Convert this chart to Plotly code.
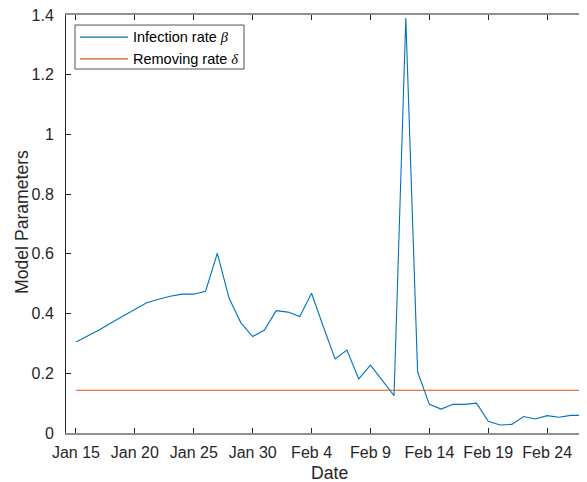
import plotly.graph_objects as go

# ---- data ----
dates = [
    "2020-01-15", "2020-01-16", "2020-01-17", "2020-01-18", "2020-01-19", "2020-01-20",
    "2020-01-21", "2020-01-22", "2020-01-23", "2020-01-24", "2020-01-25", "2020-01-26",
    "2020-01-27", "2020-01-28", "2020-01-29", "2020-01-30", "2020-01-31", "2020-02-01",
    "2020-02-02", "2020-02-03", "2020-02-04", "2020-02-05", "2020-02-06", "2020-02-07",
    "2020-02-08", "2020-02-09", "2020-02-10", "2020-02-11", "2020-02-12", "2020-02-13",
    "2020-02-14", "2020-02-15", "2020-02-16", "2020-02-17", "2020-02-18", "2020-02-19",
    "2020-02-20", "2020-02-21", "2020-02-22", "2020-02-23", "2020-02-24", "2020-02-25",
    "2020-02-26", "2020-02-27",
]
beta = [
    0.305, 0.325, 0.346, 0.369, 0.391, 0.413,
    0.436, 0.448, 0.458, 0.465, 0.465, 0.475,
    0.602, 0.451, 0.369, 0.323, 0.345, 0.410,
    0.405, 0.390, 0.468, 0.356, 0.248, 0.278,
    0.181, 0.227, 0.176, 0.125, 1.390, 0.205,
    0.096, 0.080, 0.096, 0.096, 0.100, 0.039,
    0.027, 0.029, 0.055, 0.047, 0.058, 0.053,
    0.059, 0.059,
]
delta_dates = ["2020-01-15", "2020-02-27"]
delta = [0.143, 0.143]

series_names = ["Infection rate", "Removing rate"]
series_symbols = ["β", "δ"]
series_colors = ["#0072BD", "#D95319"]

tick_dates = ["2020-01-15", "2020-01-20", "2020-01-25", "2020-01-30", "2020-02-04",
              "2020-02-09", "2020-02-14", "2020-02-19", "2020-02-24"]
tick_labels = ["Jan 15", "Jan 20", "Jan 25", "Jan 30", "Feb 4",
               "Feb 9", "Feb 14", "Feb 19", "Feb 24"]
y_ticks = [0, 0.2, 0.4, 0.6, 0.8, 1.0, 1.2, 1.4]
y_tick_labels = ["0", "0.2", "0.4", "0.6", "0.8", "1", "1.2", "1.4"]
x_title = "Date"
y_title = "Model Parameters"

FONT = "Liberation Sans, Arial, Helvetica, sans-serif"
AX = "#262626"


def legend_label(name, sym):
    return f"{name} <i><span style=\"font-family:'Liberation Serif'\">{sym}</span></i>"


fig = go.Figure()
fig.add_trace(go.Scatter(
    x=dates, y=beta, mode="lines",
    line=dict(color=series_colors[0], width=1.1),
    name=legend_label(series_names[0], series_symbols[0]),
))
fig.add_trace(go.Scatter(
    x=delta_dates, y=delta, mode="lines",
    line=dict(color=series_colors[1], width=1.1),
    name=legend_label(series_names[1], series_symbols[1]),
))

# ---- compact MATLAB-style legend box (paper coordinates) ----
fig.add_shape(type="rect", xref="paper", yref="paper",
              x0=0.0173, x1=0.3417, y0=0.8708, y1=0.976,
              line=dict(color=AX, width=0.8), fillcolor="white", layer="above")
legend_y = [0.947, 0.895]
for i in range(2):
    fig.add_shape(type="line", xref="paper", yref="paper",
                  x0=0.0269, x1=0.119, y0=legend_y[i], y1=legend_y[i],
                  line=dict(color=series_colors[i], width=1.1), layer="above")
    fig.add_annotation(xref="paper", yref="paper", x=0.1248, y=legend_y[i],
                       xanchor="left", yanchor="middle", showarrow=False,
                       text=legend_label(series_names[i], series_symbols[i]),
                       font=dict(family=FONT, size=14.5, color="#000000"))

# ---- axis titles ----
fig.add_annotation(xref="paper", yref="paper", x=0.505, y=-0.0957,
                   xanchor="center", yanchor="middle", showarrow=False,
                   text=x_title, font=dict(family=FONT, size=17.6, color=AX))
fig.add_annotation(xref="paper", yref="paper", x=-0.0845, y=0.505,
                   xanchor="center", yanchor="middle", showarrow=False,
                   textangle=-90,
                   text=y_title, font=dict(family=FONT, size=17.6, color=AX))

# The page body has an 8px margin, so the figure is sized/offset to compensate.
fig.update_layout(
    width=579, height=474,
    margin=dict(l=58, r=0, t=7, b=49),
    paper_bgcolor="white", plot_bgcolor="white",
    font=dict(family=FONT, size=16, color=AX),
    showlegend=False,
    xaxis=dict(
        type="date",
        range=["2020-01-14 03:40", "2020-02-27 09:10"],
        tickvals=tick_dates, ticktext=tick_labels,
        ticks="inside", ticklen=5, tickcolor=AX, tickwidth=1,
        showline=True, linecolor="#8f8f8f", linewidth=1.5, mirror="ticks",
        showgrid=False, zeroline=False,
        tickfont=dict(size=16, color=AX),
        ticklabelstandoff=4,
    ),
    yaxis=dict(
        range=[0, 1.4],
        tickvals=y_ticks, ticktext=y_tick_labels,
        ticks="inside", ticklen=5, tickcolor=AX, tickwidth=1,
        showline=True, linecolor=AX, linewidth=1,
        showgrid=False, zeroline=False,
        tickfont=dict(size=16, color=AX),
        ticklabelstandoff=8, ticklabeloverflow="allow",
    ),
)

fig.write_html("out.html")
